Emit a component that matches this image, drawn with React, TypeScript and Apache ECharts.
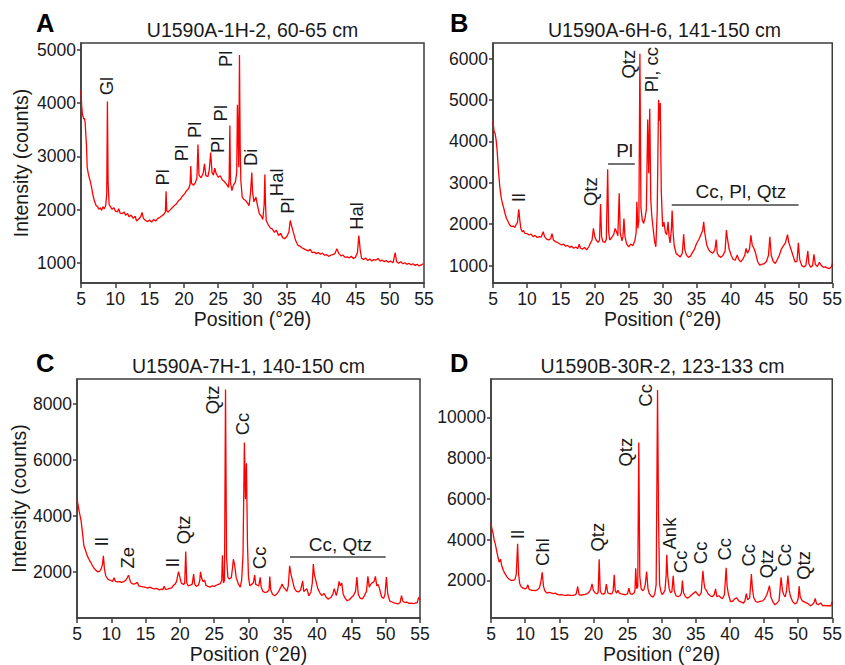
import React, { useEffect, useRef } from "react";
import * as echarts from "echarts";

// ---------- Panel A: U1590A-1H-2, 60-65 cm ----------
const aPos = [5.0,5.1,5.2,5.4,5.5,5.6,5.8,5.9,6.1,6.3,6.5,6.8,7.0,7.2,7.4,7.6,7.8,8.0,8.2,8.4,8.6,8.75,8.85,8.95,9.1,9.3,9.5,9.8,10.0,10.3,10.5,10.7,11.0,11.3,11.5,11.8,12.0,12.3,12.6,12.9,13.1,13.4,13.7,13.9,14.1,14.4,14.7,15.0,15.3,15.6,15.9,16.2,16.5,16.8,17.1,17.3,17.4,17.5,17.7,18.0,18.3,18.6,18.9,19.2,19.5,19.8,20.1,20.4,20.7,20.9,21.0,21.1,21.4,21.7,21.9,22.05,22.2,22.5,22.8,23.0,23.2,23.5,23.7,23.9,24.1,24.3,24.5,24.7,25.0,25.3,25.6,25.9,26.2,26.5,26.6,26.7,26.8,27.0,27.2,27.5,27.7,27.8,27.9,28.0,28.1,28.2,28.3,28.5,28.7,29.0,29.3,29.5,29.7,29.9,30.0,30.2,30.5,30.7,31.0,31.3,31.5,31.7,31.8,31.9,32.0,32.3,32.6,32.9,33.2,33.5,33.8,34.1,34.4,34.7,35.0,35.3,35.5,35.7,36.0,36.3,36.6,36.9,37.2,37.5,37.8,38.1,38.4,38.7,39.0,39.3,39.6,39.9,40.2,40.5,40.8,41.1,41.4,41.7,42.0,42.3,42.6,42.9,43.2,43.5,43.8,44.1,44.4,44.7,45.0,45.3,45.5,45.7,45.9,46.2,46.5,46.8,47.1,47.4,47.7,48.0,48.3,48.6,48.9,49.2,49.5,49.8,50.1,50.5,50.8,51.0,51.3,51.6,51.9,52.2,52.5,52.8,53.1,53.4,53.7,54.0,54.3,54.6,54.9,55.0];
const aCounts = [4240,3950,3800,3700,3720,3640,3200,2800,2650,2560,2450,2240,2150,2080,2060,2010,2040,1990,2060,2020,2080,2300,4030,2500,2100,2060,2010,2040,1980,1960,2020,1940,1930,1960,1900,1930,1870,1900,1840,1880,1790,1830,1870,1950,1840,1800,1780,1810,1770,1820,1790,1840,1860,1890,1920,1960,2350,1980,1960,2000,2040,2080,2110,2170,2200,2260,2300,2360,2400,2480,2820,2500,2460,2520,2600,3225,2650,2600,2680,2860,2640,2620,2750,3075,2700,2650,2780,2680,2610,2640,2560,2530,2480,2420,2600,3580,2500,2360,2460,2520,2700,3970,3400,2800,4900,3200,2550,2240,2200,2175,2120,2080,2300,2700,2350,2150,2240,2100,1925,1880,1820,2100,2660,2100,1800,1720,1660,1640,1580,1620,1520,1560,1480,1460,1500,1580,1800,1700,1560,1420,1340,1320,1290,1270,1250,1230,1260,1200,1210,1180,1200,1170,1190,1150,1160,1130,1150,1160,1180,1270,1180,1140,1150,1110,1120,1100,1130,1090,1110,1200,1520,1250,1090,1070,1100,1050,1080,1040,1070,1060,1090,1040,1060,1030,1050,1020,1040,1010,1200,1030,1000,1030,990,1010,980,1000,970,990,960,980,950,970,990,990];

// ---------- Panel B: U1590A-6H-6, 141-150 cm ----------
const bPos = [5.0,5.15,5.3,5.45,5.6,5.8,6.0,6.2,6.4,6.6,6.8,7.0,7.2,7.4,7.6,7.8,8.0,8.2,8.4,8.6,8.8,8.95,9.1,9.3,9.5,9.7,10.0,10.3,10.6,10.9,11.2,11.5,11.8,12.1,12.4,12.6,12.9,13.2,13.5,13.7,13.9,14.2,14.5,14.8,15.1,15.4,15.7,16.0,16.3,16.6,16.9,17.2,17.5,17.7,17.9,18.2,18.5,18.8,19.1,19.4,19.6,19.8,20.0,20.2,20.5,20.7,20.85,21.0,21.2,21.5,21.7,21.9,22.05,22.2,22.5,22.8,23.0,23.2,23.4,23.6,23.75,24.0,24.15,24.3,24.45,24.7,25.0,25.3,25.6,25.9,26.1,26.2,26.35,26.5,26.65,26.8,27.0,27.2,27.4,27.6,27.8,27.95,28.1,28.25,28.4,28.6,28.8,29.0,29.2,29.4,29.55,29.65,29.8,30.0,30.2,30.4,30.6,30.8,30.95,31.1,31.3,31.4,31.55,31.7,32.0,32.3,32.6,32.9,33.1,33.25,33.5,33.8,34.1,34.4,34.7,35.0,35.3,35.6,35.9,36.05,36.2,36.5,36.8,37.1,37.4,37.7,37.9,38.05,38.3,38.6,38.9,39.2,39.4,39.55,39.8,40.1,40.4,40.7,41.0,41.2,41.5,41.8,42.1,42.3,42.5,42.8,43.0,43.2,43.5,43.7,44.0,44.3,44.6,45.0,45.3,45.6,45.8,46.0,46.3,46.6,46.9,47.2,47.5,47.8,48.1,48.4,48.6,48.9,49.2,49.5,49.8,50.0,50.2,50.5,50.8,51.1,51.4,51.55,51.8,52.1,52.3,52.5,52.8,53.1,53.4,53.7,54.0,54.3,54.6,54.9,55.0];
const bCounts = [4490,4250,4200,4050,3800,3300,2910,2650,2500,2380,2240,2140,2070,2000,1960,1940,1960,1920,1990,2040,2360,2100,1900,1820,1850,1780,1775,1740,1760,1700,1730,1680,1700,1690,1820,1700,1640,1620,1650,1775,1620,1580,1560,1530,1500,1520,1470,1490,1440,1470,1420,1450,1410,1520,1420,1400,1440,1380,1450,1560,1620,1900,1700,1620,1560,1620,2490,1700,1580,1560,1640,3330,1800,1620,1680,1760,1900,1820,1720,2750,1800,1600,1700,2140,1700,1520,1455,1520,1480,1600,1800,2545,1900,2100,6120,2400,2100,2020,2150,2350,4530,3230,4790,2600,2200,1900,1600,1455,2300,5010,4500,4930,2800,1940,2050,1800,1750,2060,1700,1550,1900,2330,1800,1480,1290,1250,1210,1300,1760,1400,1260,1200,1230,1320,1400,1535,1620,1735,1850,2060,1800,1500,1380,1330,1300,1380,1630,1300,1230,1200,1250,1350,1860,1650,1400,1250,1150,1130,1260,1150,1090,1150,1250,1415,1300,1400,1735,1500,1400,1300,1100,1010,1030,1050,1100,1250,1695,1250,1100,1050,1150,1250,1400,1480,1550,1750,1550,1400,1250,1090,1100,1550,1150,1000,970,1000,1355,1050,960,1000,1275,1030,980,1080,1000,960,970,940,930,980,1050];

// ---------- Panel C: U1590A-7H-1, 140-150 cm ----------
const cPos = [5.0,5.15,5.3,5.45,5.6,5.8,6.0,6.2,6.5,6.8,7.0,7.3,7.5,7.8,8.0,8.3,8.5,8.7,8.85,9.0,9.2,9.5,9.8,10.0,10.2,10.4,10.6,10.9,11.2,11.5,11.8,12.1,12.3,12.5,12.7,12.9,13.2,13.5,13.8,14.0,14.3,14.6,15.0,15.3,15.6,16.0,16.3,16.6,17.0,17.3,17.5,17.7,17.9,18.2,18.5,18.8,19.0,19.3,19.5,19.8,20.0,20.2,20.5,20.7,20.85,21.0,21.2,21.5,21.8,22.0,22.15,22.4,22.7,22.9,23.0,23.2,23.4,23.6,23.8,24.1,24.4,24.7,25.0,25.3,25.6,25.9,26.1,26.2,26.35,26.5,26.65,26.8,27.0,27.2,27.5,27.65,27.8,28.0,28.2,28.5,28.8,29.0,29.2,29.4,29.55,29.7,29.85,30.0,30.2,30.5,30.7,30.9,31.05,31.3,31.5,31.7,31.85,32.1,32.4,32.7,33.0,33.1,33.25,33.5,33.8,34.1,34.4,34.7,34.9,35.1,35.3,35.6,35.8,36.0,36.2,36.4,36.7,37.0,37.3,37.6,37.9,38.05,38.3,38.5,38.8,39.1,39.3,39.45,39.6,39.8,40.1,40.4,40.7,41.0,41.3,41.6,42.0,42.3,42.5,42.8,43.0,43.2,43.4,43.6,43.8,44.1,44.4,44.7,45.0,45.3,45.6,45.8,46.0,46.3,46.6,46.9,47.2,47.4,47.6,47.8,48.0,48.3,48.5,48.7,48.9,49.1,49.4,49.7,49.9,50.1,50.3,50.6,50.9,51.2,51.5,51.8,52.1,52.3,52.5,52.8,53.1,53.4,53.7,54.0,54.3,54.6,54.8,55.0];
const cCounts = [4595,4400,4180,4000,3820,3400,2930,2800,2570,2420,2335,2200,2120,2050,2000,2020,2095,2250,2570,2100,1850,1740,1700,1680,1660,1790,1660,1640,1650,1620,1650,1700,1780,1880,1720,1600,1560,1580,1620,1500,1480,1460,1440,1420,1450,1405,1390,1410,1355,1380,1360,1480,1370,1380,1410,1430,1500,1560,1650,2010,1800,1600,1550,1580,2725,1600,1500,1520,1560,1920,1560,1480,1520,1700,2000,1750,1650,1700,1520,1480,1450,1500,1480,1520,1550,1580,1700,2595,1600,1700,8520,2500,1800,1740,1800,2100,2450,2215,1800,1580,1450,1700,2600,6620,4600,5880,3000,1800,1500,1560,1600,1880,1550,1520,1500,1800,1450,1300,1260,1280,1350,1835,1350,1200,1145,1200,1300,1450,1560,1450,1400,1300,1500,2215,1900,1700,1400,1300,1280,1350,1680,1300,1350,1400,1145,1280,1600,2275,1900,1700,1400,1250,1150,1230,1100,1025,1080,1200,1400,1150,1350,1655,1500,1600,1200,1050,965,1000,1080,1150,1300,1810,1200,1050,1030,1150,1300,1835,1450,1550,1600,1650,1835,1500,1550,1400,1100,1050,1200,1810,1200,950,920,890,870,850,900,1145,950,900,920,870,880,860,880,900,1085,1000];

// ---------- Panel D: U1590B-30R-2, 123-133 cm ----------
const dPos = [5.0,5.15,5.3,5.45,5.6,5.8,6.0,6.2,6.4,6.55,6.8,7.0,7.3,7.5,7.8,8.0,8.3,8.5,8.7,8.9,9.05,9.2,9.4,9.7,10.0,10.2,10.4,10.6,10.9,11.2,11.5,11.8,12.1,12.3,12.5,12.7,12.9,13.2,13.5,13.8,14.1,14.4,14.7,15.0,15.3,15.6,16.0,16.3,16.6,17.0,17.3,17.5,17.7,17.9,18.2,18.5,18.8,19.1,19.4,19.6,19.8,20.0,20.3,20.5,20.7,20.85,21.0,21.2,21.5,21.7,21.9,22.1,22.4,22.7,22.9,23.05,23.2,23.4,23.6,23.8,24.1,24.4,24.7,25.0,25.2,25.4,25.7,26.0,26.1,26.2,26.35,26.5,26.65,26.8,27.0,27.2,27.4,27.6,27.8,28.0,28.2,28.5,28.8,29.0,29.2,29.4,29.55,29.7,29.9,30.1,30.3,30.5,30.65,30.75,30.9,31.1,31.3,31.5,31.7,31.85,32.1,32.4,32.7,32.9,33.05,33.2,33.5,33.8,34.1,34.4,34.7,35.0,35.2,35.5,35.8,36.05,36.2,36.35,36.5,36.8,37.1,37.4,37.7,37.9,38.1,38.4,38.7,38.9,39.2,39.45,39.6,39.8,40.1,40.4,40.7,41.0,41.3,41.6,42.0,42.2,42.4,42.6,42.9,43.15,43.3,43.5,43.8,44.1,44.4,44.8,45.1,45.4,45.6,45.8,46.0,46.3,46.6,46.9,47.2,47.5,47.7,47.9,48.1,48.3,48.5,48.7,48.9,49.2,49.5,49.8,50.0,50.15,50.3,50.6,50.9,51.2,51.5,51.8,52.1,52.3,52.5,52.7,53.0,53.3,53.6,53.9,54.2,54.5,54.8,55.0];
const dCounts = [4810,4500,4320,4000,3830,3500,3175,2900,3045,2750,2500,2360,2200,2115,2030,2000,2010,2050,2300,3795,2300,1850,1705,1620,1590,1620,1785,1560,1520,1510,1500,1540,1650,1900,2405,1700,1480,1380,1420,1390,1360,1380,1320,1295,1310,1280,1265,1290,1270,1265,1290,1350,1705,1300,1280,1300,1320,1350,1450,1550,1835,1500,1380,1350,1400,3045,1500,1350,1330,1380,1820,1400,1350,1340,1500,2275,1500,1380,1520,1380,1340,1320,1300,1350,1625,1350,1320,1400,1550,2600,1600,1700,8760,2200,1600,1500,1550,1800,2440,1600,1350,1215,1200,1350,1800,11340,5000,1800,1450,1300,1400,1550,2200,3255,2200,1600,1400,1450,2225,1500,1250,1200,1250,1400,2000,1400,1200,1135,1200,1300,1380,1460,1350,1250,1400,2470,1900,1600,1550,1350,1250,1200,1300,1590,1200,1250,1150,1100,1300,2620,1700,1300,970,980,1100,1150,1000,950,890,1000,1350,1050,1150,2310,1600,1150,960,940,970,1000,1100,1300,1500,1740,1200,950,805,900,1000,2160,1500,1300,1200,1500,2245,1500,1200,960,850,900,1100,1720,1200,1000,950,900,850,755,820,900,1115,850,820,900,760,780,760,770,750,970];

// ---------- Axes ----------
const xTicks = [5, 10, 15, 20, 25, 30, 35, 40, 45, 50, 55];
const aYTicks = [1000, 2000, 3000, 4000, 5000];
const bYTicks = [1000, 2000, 3000, 4000, 5000, 6000];
const cYTicks = [2000, 4000, 6000, 8000];
const dYTicks = [2000, 4000, 6000, 8000, 10000];

const titles = ["U1590A-1H-2, 60-65 cm", "U1590A-6H-6, 141-150 cm", "U1590A-7H-1, 140-150 cm", "U1590B-30R-2, 123-133 cm"];
const letters = ["A", "B", "C", "D"];

// ---------- Peak labels (position °2θ, intensity at text start, text) ----------
const aLabelPos = [8.74, 16.9, 19.7, 21.6, 24.9, 25.3, 26.0, 29.7, 33.5, 35.1, 45.2];
const aLabelCounts = [4145, 2456, 2912, 3344, 3063, 3656, 4675, 2820, 2256, 1925, 1625];
const aLabelText = ["Gl", "Pl", "Pl", "Pl", "Pl", "Pl", "Pl", "Di", "Hal", "Pl", "Hal"];

const bLabelPos = [8.8, 19.3, 25.0, 28.4];
const bLabelCounts = [2530, 2440, 5520, 5190];
const bLabelText = ["Il", "Qtz", "Qtz", "Pl, cc"];

const cLabelPos = [8.6, 12.29, 18.9, 20.55, 24.73, 29.1, 31.63];
const cLabelCounts = [2905, 2119, 2155, 2988, 7631, 6881, 2095];
const cLabelText = ["Il", "Ze", "Il", "Qtz", "Qtz", "Cc", "Cc"];

const dLabelPos = [8.9, 12.5, 20.55, 24.7, 27.7, 31.2, 32.7, 35.7, 39.15, 42.8, 45.4, 48.0, 50.8];
const dLabelCounts = [4025, 2715, 3420, 7585, 10520, 3520, 2360, 2800, 2980, 2685, 2110, 2685, 2030];
const dLabelText = ["Il", "Chl", "Qtz", "Qtz", "Cc", "Ank", "Cc", "Cc", "Cc", "Cc", "Qtz", "Cc", "Qtz"];

// group labels with a bar: panel index, text centre, bar from/to, bar level
const groupPanel = [1, 1, 2];
const groupText = ["Pl", "Cc, Pl, Qtz", "Cc, Qtz"];
const groupTextPos = [24.4, 41.54, 43.4];
const groupTextCounts = [3783, 2780, 2988];
const groupBarFrom = [21.96, 31.34, 36.05];
const groupBarTo = [25.9, 50.04, 50.0];
const groupBarCounts = [3460, 2473, 2536];

const FONT = "Liberation Sans, Arial, Helvetica, sans-serif";
const AXIS_COLOR = "#3c3c3c";
const TEXT_COLOR = "#1a1a1a";

export default function App() {
  const ref = useRef<HTMLDivElement>(null);

  useEffect(() => {
    if (!ref.current) return;
    const chart = echarts.init(ref.current, null, { renderer: "svg" });

    const grids = [
      { left: 81, top: 43, width: 343, height: 240 },
      { left: 493, top: 43, width: 343, height: 240 },
      { left: 77, top: 379, width: 343, height: 240 },
      { left: 491, top: 379, width: 343, height: 240 },
    ];
    const yRanges = [
      [630, 5125],
      [580, 6380],
      [345, 8895],
      [155, 11880],
    ];
    const yTicks = [aYTicks, bYTicks, cYTicks, dYTicks];
    const showYName = [true, false, true, false];
    const yNameGap = [50, 0, 46, 0];
    const posArr = [aPos, bPos, cPos, dPos];
    const cntArr = [aCounts, bCounts, cCounts, dCounts];
    const plain = (v: number) => String(v);

    const option: any = {
      animation: false,
      backgroundColor: "#ffffff",
      textStyle: { fontFamily: FONT },
      grid: grids.map((g) => ({
        ...g,
        show: true,
        borderColor: AXIS_COLOR,
        borderWidth: 1.5,
        backgroundColor: "transparent",
        containLabel: false,
      })),
      xAxis: grids.map((_, i) => ({
        type: "value",
        gridIndex: i,
        min: 5,
        max: 55,
        interval: 5,
        name: "Position (°2θ)",
        nameLocation: "middle",
        nameGap: 24,
        nameTextStyle: { fontSize: 19.5, color: TEXT_COLOR, fontFamily: FONT },
        axisLine: { show: true, lineStyle: { color: AXIS_COLOR, width: 1.5 } },
        axisTick: { show: true, length: 5, lineStyle: { color: AXIS_COLOR, width: 1.5 }, customValues: xTicks },
        axisLabel: { fontSize: 17.5, color: TEXT_COLOR, margin: 7, fontFamily: FONT, customValues: xTicks, formatter: plain },
        splitLine: { show: false },
      })),
      yAxis: grids.map((_, i) => ({
        type: "value",
        gridIndex: i,
        min: yRanges[i][0],
        max: yRanges[i][1],
        name: showYName[i] ? "Intensity (counts)" : "",
        nameLocation: "middle",
        nameGap: yNameGap[i],
        nameTextStyle: { fontSize: 19.5, color: TEXT_COLOR, fontFamily: FONT },
        axisLine: { show: true, lineStyle: { color: AXIS_COLOR, width: 1.5 } },
        axisTick: { show: true, length: 4, lineStyle: { color: AXIS_COLOR, width: 1.5 }, customValues: yTicks[i] },
        axisLabel: { fontSize: 17.5, color: TEXT_COLOR, margin: 5, fontFamily: FONT, customValues: yTicks[i], formatter: plain },
        splitLine: { show: false },
      })),
      series: grids.map((_, i) => ({
        type: "line",
        xAxisIndex: i,
        yAxisIndex: i,
        showSymbol: false,
        symbol: "none",
        silent: true,
        clip: true,
        lineStyle: { color: "#ff0000", width: 1.3 },
        data: posArr[i].map((x, k) => [x, cntArr[i][k]]),
        markLine: {
          silent: true,
          symbol: "none",
          label: { show: false },
          lineStyle: { color: "#444444", width: 1.5, type: "solid" },
          data: groupPanel
            .map((p, k) => (p === i ? k : -1))
            .filter((k) => k >= 0)
            .map((k) => [
              { coord: [groupBarFrom[k], groupBarCounts[k]] },
              { coord: [groupBarTo[k], groupBarCounts[k]] },
            ]),
        },
      })),
    };

    chart.setOption(option);

    const graphics: any[] = [];
    grids.forEach((g, i) => {
      graphics.push({
        type: "text",
        x: g.left + g.width / 2,
        y: g.top - 13,
        style: {
          text: titles[i],
          fontSize: 19.5,
          fontFamily: FONT,
          fill: TEXT_COLOR,
          align: "center",
          verticalAlign: "middle",
        },
      });
      graphics.push({
        type: "text",
        x: i % 2 === 0 ? 36 : 450,
        y: i < 2 ? 23 : 363,
        style: {
          text: letters[i],
          fontSize: 25.5,
          fontWeight: "bold",
          fontFamily: FONT,
          fill: "#000",
          align: "left",
          verticalAlign: "middle",
        },
      });
    });

    const labelSets = [
      [aLabelPos, aLabelCounts, aLabelText],
      [bLabelPos, bLabelCounts, bLabelText],
      [cLabelPos, cLabelCounts, cLabelText],
      [dLabelPos, dLabelCounts, dLabelText],
    ] as any[];
    labelSets.forEach((set, i) => {
      const [ps, cs, ts] = set;
      ps.forEach((x: number, k: number) => {
        const pt = chart.convertToPixel({ gridIndex: i }, [x, cs[k]]) as number[];
        graphics.push({
          type: "text",
          x: pt[0],
          y: pt[1],
          rotation: Math.PI / 2,
          style: {
            text: ts[k],
            fontSize: 18.5,
            fontFamily: FONT,
            fill: TEXT_COLOR,
            align: "left",
            verticalAlign: "middle",
          },
        });
      });
    });

    groupPanel.forEach((p, k) => {
      const pt = chart.convertToPixel({ gridIndex: p }, [groupTextPos[k], groupTextCounts[k]]) as number[];
      graphics.push({
        type: "text",
        x: pt[0],
        y: pt[1],
        style: {
          text: groupText[k],
          fontSize: 19,
          fontFamily: FONT,
          fill: TEXT_COLOR,
          align: "center",
          verticalAlign: "middle",
        },
      });
    });

    chart.setOption({ graphic: graphics });

    return () => {
      chart.dispose();
    };
  }, []);

  return (
    <div
      ref={ref}
      style={{ position: "absolute", left: 0, top: 0, width: 845, height: 665, background: "#fff" }}
    />
  );
}
